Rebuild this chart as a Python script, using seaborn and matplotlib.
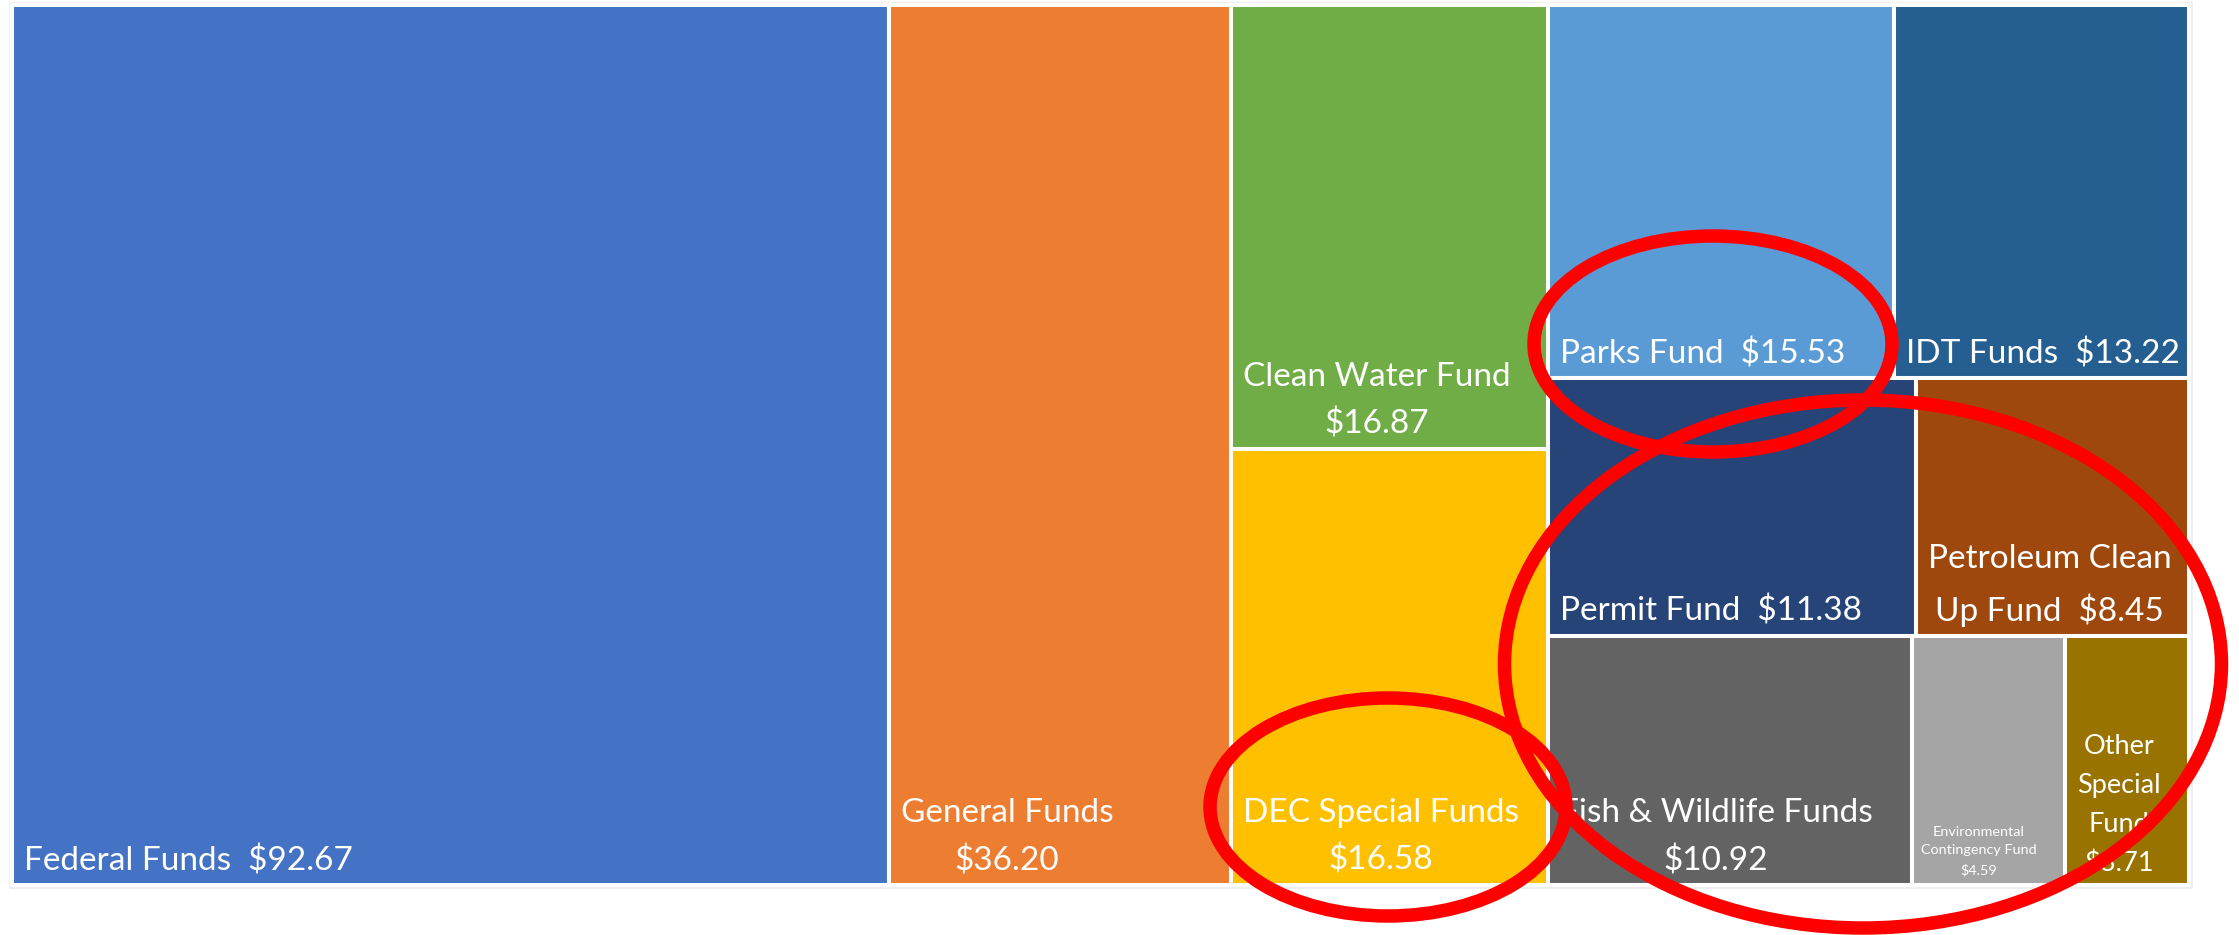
import numpy as np
import pandas as pd
import matplotlib
matplotlib.use('Agg')
import matplotlib.pyplot as plt
from matplotlib.patches import Rectangle, Ellipse
import seaborn as sns

# fund names and amounts ($M)
funds = ['Federal Funds', 'General Funds', 'Clean Water Fund', 'DEC Special Funds',
         'Parks Fund', 'IDT Funds', 'Permit Fund', 'Petroleum Clean\nUp Fund',
         'Fish & Wildlife Funds', 'Environmental\nContingency Fund', 'Other\nSpecial\nFund']
amounts = [92.67, 36.20, 16.87, 16.58, 15.53, 13.22, 11.38, 8.45, 10.92, 4.59, 3.71]
value_below = [False, True, True, True, False, False, False, False, True, True, True]
colors = ['#4472C4', '#ED7D31', '#70AD47', '#FFC000', '#5B9BD5', '#255E91',
          '#264478', '#9E480E', '#636363', '#A5A5A5', '#997300']
font_sizes = [24, 24, 24, 24, 24, 24, 24, 24, 24, 10.4, 19.5]

# treemap structure: columns -> rows -> cells (indices into the lists above)
columns = [[[0]], [[1]], [[2], [3]], [[4, 5], [6, 7], [8, 9, 10]]]

# red ellipses drawn over the chart (pixel coords: cx, cy, width, height)
highlights = [(1713, 344, 358, 216), (1388, 807, 356, 218), (1863, 664, 717, 528)]

df = pd.DataFrame({'fund': funds, 'amount': amounts, 'below': value_below,
                   'color': colors, 'size': font_sizes})

sns.set_theme(style='white')
plt.rcParams['font.family'] = ['Lato', 'DejaVu Sans']

W, H = 2239, 935
fig = plt.figure(figsize=(W / 100, H / 100), dpi=100)
ax = fig.add_axes([0, 0, 1, 1])
ax.set_xlim(0, W)
ax.set_ylim(H, 0)
ax.axis('off')

# plotting area of the treemap
X0, Y0, TW, TH = 12, 5, 2177, 880
total = df['amount'].sum()

ax.add_patch(Rectangle((X0 - 2.5, Y0 - 2.5), TW + 5, TH + 5, facecolor='none',
                       edgecolor='#ececec', lw=1.2, zorder=1))

x = X0
for col in columns:
    col_sum = sum(df.amount[i] for row in col for i in row)
    cw = TW * col_sum / total
    y = Y0
    for row in col:
        row_sum = sum(df.amount[i] for i in row)
        rh = TH * row_sum / col_sum
        cx = x
        for i in row:
            w = cw * df.amount[i] / row_sum
            ax.add_patch(Rectangle((cx, y), w, rh, facecolor=df.color[i],
                                   edgecolor='white', lw=2.9, zorder=2))
            sep = '\n' if df.below[i] else '  '
            label = f"{df.fund[i]}{sep}${df.amount[i]:.2f}"
            pad = 12 if df['size'][i] > 12 else 9
            ax.text(cx + pad, y + rh - 9, label, color='white', fontsize=df['size'][i],
                    ha='left', va='bottom', multialignment='center',
                    linespacing=1.68, zorder=3)
            cx += w
        y += rh
    x += cw

for (ex, ey, ew, eh) in highlights:
    ax.add_patch(Ellipse((ex, ey), ew, eh, facecolor='none', edgecolor='#FF0000',
                         lw=9.7, zorder=4))

fig.savefig('out.png', dpi=100, facecolor='white')
